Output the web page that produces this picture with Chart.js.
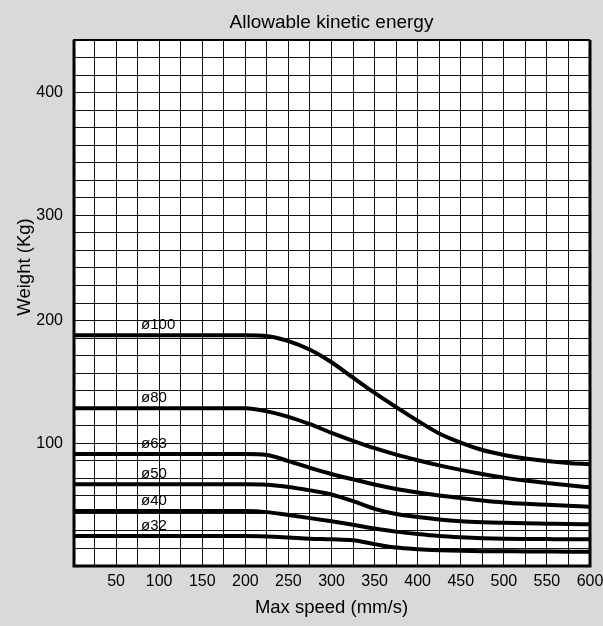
<!DOCTYPE html>
<html>
<head>
<meta charset="utf-8">
<script src="https://cdn.jsdelivr.net/npm/chart.js@4"></script>
<style>
  body { margin: 0; background: #d9d9d9; }
  canvas { display: block; background: #d9d9d9; }
</style>
</head>
<body>
<canvas id="myChart" width="603" height="626"></canvas>
<script>
const FONT = "'Liberation Sans', Arial, sans-serif";

// max speed (mm/s)
const speeds = [0, 200, 225, 250, 275, 300, 325, 350, 375, 400, 425, 450, 475, 500, 525, 550, 575, 600];

// allowable weight (kg) per bore
const d100 = [188, 188, 187.4, 183.2, 176.2, 166, 153.4, 141, 129.5, 118.3, 108, 100.5, 94.5, 90.5, 87.6, 85.5, 84, 83];
const d80 = [128.5, 128.5, 126, 121.5, 115.5, 108.5, 102, 96, 90.8, 86.2, 82, 78.3, 75, 72, 69.6, 67.6, 65.8, 64.1];
const d63 = [91.3, 91.3, 90.5, 85.5, 80, 75, 70.6, 66.4, 62.8, 59.9, 57.4, 55.3, 53.4, 51.8, 50.7, 49.9, 49.1, 48.3];
const d50 = [66.6, 66.6, 66.3, 64.4, 61.6, 58.3, 52.8, 46.6, 42.4, 39.9, 37.9, 36.5, 35.7, 35.2, 34.8, 34.5, 34.2, 34];
const d40 = [44.8, 44.8, 43.9, 41.5, 39, 36.4, 33.6, 30.6, 28, 26, 24.4, 23.4, 22.7, 22.2, 22, 21.9, 21.8, 21.8];
const d32 = [24.4, 24.4, 24, 23.2, 22.3, 21.8, 21, 17.8, 15, 13.7, 12.9, 12.4, 12.1, 12, 11.9, 11.8, 11.7, 11.7];

const boreLabels = ['ø100', 'ø80', 'ø63', 'ø50', 'ø40', 'ø32'];
const boreSeries = [d100, d80, d63, d50, d40, d32];
const labelSpeed = 79;

// y grid: 30 cells of 100/7 kg, labels sit on grid lines 7, 14, 20, 27
const yStep = 100 / 7;
const yCells = 30;
const yTickLabels = ['100', '200', '300', '400'];
const yTickLines = [7, 14, 20, 27];

const xStep = 25;
const xLabelStep = 50;

function pts(values) {
  return speeds.map((s, i) => ({ x: s, y: values[i] }));
}

const plotBg = {
  id: 'plotBg',
  beforeDraw(chart) {
    const { ctx, chartArea: a } = chart;
    ctx.save();
    ctx.fillStyle = '#fff';
    ctx.fillRect(a.left, a.top, a.right - a.left, a.bottom - a.top);
    ctx.restore();
  }
};

const frameAndText = {
  id: 'frameAndText',
  afterDatasetsDraw(chart) {
    const { ctx, chartArea: a, scales } = chart;
    ctx.save();
    ctx.strokeStyle = '#000';
    ctx.lineWidth = 3;
    ctx.beginPath();
    ctx.moveTo(a.left + 1, a.top);
    ctx.lineTo(a.left + 1, a.bottom);
    ctx.lineTo(a.right, a.bottom);
    ctx.lineTo(a.right, a.top);
    ctx.stroke();
    ctx.lineWidth = 2;
    ctx.beginPath();
    ctx.moveTo(a.left, a.top);
    ctx.lineTo(a.right, a.top);
    ctx.stroke();

    ctx.fillStyle = '#000';

    // chart title over the plot
    ctx.font = '19px ' + FONT;
    ctx.textAlign = 'center';
    ctx.textBaseline = 'middle';
    ctx.fillText('Allowable kinetic energy', (a.left + a.right) / 2, 23);

    // bore labels above each curve
    ctx.font = '15px ' + FONT;
    ctx.textAlign = 'left';
    ctx.textBaseline = 'alphabetic';
    boreLabels.forEach((t, i) => {
      const x = scales.x.getPixelForValue(labelSpeed);
      const y = scales.y.getPixelForValue(boreSeries[i][0]) - 6;
      ctx.fillText(t, x, y);
    });

    // y axis title
    ctx.font = '18.5px ' + FONT;
    ctx.textAlign = 'center';
    ctx.textBaseline = 'middle';
    ctx.translate(25, 267);
    ctx.rotate(-Math.PI / 2);
    ctx.fillText('Weight (Kg)', 0, 0);
    ctx.restore();
  }
};

new Chart('myChart', {
  type: 'line',
  data: {
    datasets: boreSeries.map((v, i) => ({
      label: boreLabels[i],
      data: pts(v),
      borderColor: '#000',
      borderWidth: 4,
      pointRadius: 0,
      fill: false,
      cubicInterpolationMode: 'monotone'
    }))
  },
  options: {
    responsive: false,
    animation: false,
    devicePixelRatio: 1,
    layout: { padding: { left: 0, right: 13, top: 40, bottom: 0 } },
    plugins: {
      legend: { display: false },
      tooltip: { enabled: false },
      title: { display: false }
    },
    scales: {
      x: {
        type: 'linear',
        min: 0,
        max: 600,
        afterFit(scale) {
          scale.height = 60;
          scale.paddingLeft = 0;
          scale.paddingRight = 0;
        },
        grid: { color: '#111', lineWidth: 1, drawTicks: false },
        border: { display: false },
        ticks: {
          stepSize: xStep,
          autoSkip: false,
          maxRotation: 0,
          padding: 6,
          color: '#000',
          font: { family: FONT, size: 16 },
          callback: (v) => (v > 0 && v % xLabelStep === 0 ? String(v) : '')
        },
        title: {
          display: true,
          text: 'Max speed (mm/s)',
          color: '#000',
          font: { family: FONT, size: 18.5 },
          padding: { top: 0, bottom: 7 }
        }
      },
      y: {
        type: 'linear',
        min: 0,
        max: yCells * yStep,
        afterFit(scale) {
          scale.width = 73;
          scale.paddingTop = 0;
          scale.paddingBottom = 0;
        },
        afterBuildTicks(scale) {
          const t = [];
          for (let i = 0; i <= yCells; i++) t.push({ value: i * yStep });
          scale.ticks = t;
        },
        grid: { color: '#111', lineWidth: 1, drawTicks: false },
        border: { display: false },
        ticks: {
          autoSkip: false,
          padding: 10,
          color: '#000',
          font: { family: FONT, size: 16 },
          callback: (v, i) => {
            const k = yTickLines.indexOf(i);
            return k >= 0 ? yTickLabels[k] : '';
          }
        }
      }
    }
  },
  plugins: [plotBg, frameAndText]
});
</script>
</body>
</html>
